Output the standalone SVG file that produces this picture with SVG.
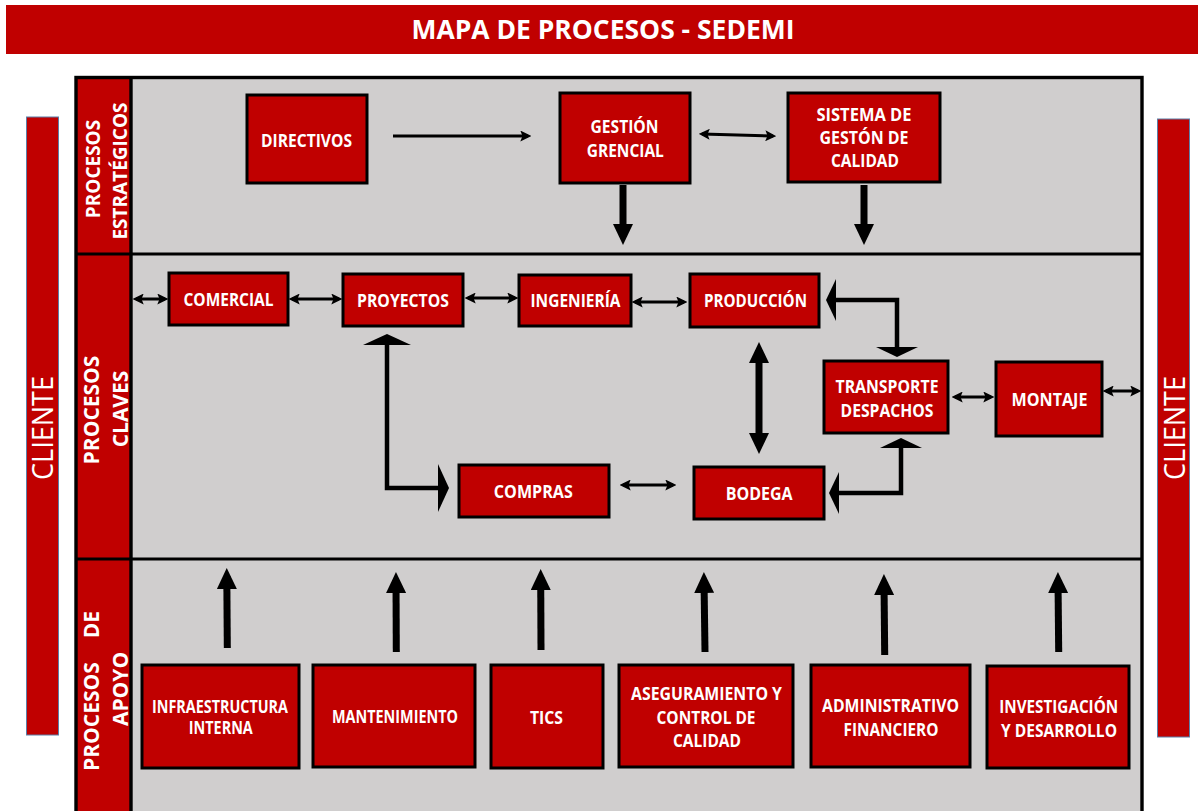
<svg xmlns="http://www.w3.org/2000/svg" width="1198" height="811" viewBox="0 0 1198 811">
  <style>
    .node { fill: #C00000; stroke: #000; stroke-width: 3; }
    .lbl { font-family: "Open Sans", "Liberation Sans", sans-serif; font-weight: 700; font-size: 17px; fill: #fff; text-anchor: middle; }
    .sec { font-family: "Open Sans", "Liberation Sans", sans-serif; font-weight: 700; fill: #fff; text-anchor: middle; }
    .client { font-family: "Open Sans", "Liberation Sans", sans-serif; font-weight: 400; font-size: 30px; fill: #fff; text-anchor: middle; }
    .thin { fill: none; stroke: #000; stroke-width: 3; marker-end: url(#head); }
    .both { marker-start: url(#head); }
    .thick { fill: none; stroke: #000; stroke-width: 7; marker-end: url(#bighead); }
    .thick2 { marker-start: url(#bighead); }
    .elbow { fill: none; stroke: #000; stroke-width: 4.5; stroke-linejoin: miter; marker-start: url(#flat); marker-end: url(#flat); }
  </style>
  <defs>
    <!-- small head for the thin connectors -->
    <marker id="head" markerUnits="userSpaceOnUse" markerWidth="11" markerHeight="11" viewBox="0 0 10 10" refX="7" refY="5" orient="auto-start-reverse">
      <path d="M0,0 L10,5 L0,10 L2,5 z" fill="#000"/>
    </marker>
    <!-- heavy head for the block arrows -->
    <marker id="bighead" markerUnits="userSpaceOnUse" markerWidth="21" markerHeight="20" viewBox="0 0 21 20" refX="13" refY="10" orient="auto-start-reverse">
      <path d="M0,0 L21,10 L0,20 z" fill="#000"/>
    </marker>
    <!-- wide, short head for the elbow links -->
    <marker id="flat" markerUnits="userSpaceOnUse" markerWidth="10" markerHeight="42" viewBox="0 0 10 42" refX="1" refY="21" orient="auto-start-reverse">
      <path d="M0,0 L10,21 L0,42 z" fill="#000"/>
    </marker>
    <marker id="flatbig" markerUnits="userSpaceOnUse" markerWidth="11" markerHeight="48" viewBox="0 0 11 48" refX="1" refY="24" orient="auto-start-reverse">
      <path d="M0,0 L11,24 L0,48 z" fill="#000"/>
    </marker>
  </defs>

  <rect width="1198" height="811" fill="#fff"/>

  <!-- title bar -->
  <g id="title">
    <rect x="6" y="5" width="1192" height="49" fill="#C00000"/>
    <text x="603" y="39" font-family="'Open Sans', 'Liberation Sans', sans-serif" font-weight="700" font-size="27" fill="#fff" text-anchor="middle" textLength="383" lengthAdjust="spacingAndGlyphs">MAPA DE PROCESOS - SEDEMI</text>
  </g>

  <!-- customer bars on both sides -->
  <g id="cliente-izq">
    <rect x="26.5" y="117" width="32" height="618" fill="#C00000" stroke="#5B7FA8" stroke-width="1"/>
    <text class="client" transform="translate(53 428) rotate(-90)" textLength="104" lengthAdjust="spacingAndGlyphs">CLIENTE</text>
  </g>
  <g id="cliente-der">
    <rect x="1157.5" y="119" width="32" height="618" fill="#C00000" stroke="#5B7FA8" stroke-width="1"/>
    <text class="client" transform="translate(1185 428) rotate(-90)" textLength="104" lengthAdjust="spacingAndGlyphs">CLIENTE</text>
  </g>

  <!-- process map frame with the three bands -->
  <g id="frame">
    <rect x="76" y="77.5" width="1066" height="760" fill="#D0CECE"/>
    <rect x="76" y="77.5" width="55" height="760" fill="#C00000"/>
    <rect x="76" y="77.5" width="1066" height="760" fill="none" stroke="#000" stroke-width="3.4"/>
    <line x1="131" y1="77.5" x2="131" y2="811" stroke="#000" stroke-width="3.4"/>
    <line x1="76" y1="254" x2="1142" y2="254" stroke="#000" stroke-width="3.2"/>
    <line x1="76" y1="559" x2="1142" y2="559" stroke="#000" stroke-width="3.2"/>
  </g>

  <g id="band-estrategicos">
    <text class="sec" font-size="19" transform="translate(100 169) rotate(-90)">PROCESOS</text>
    <text class="sec" font-size="19" transform="translate(127 171) rotate(-90)">ESTRATÉGICOS</text>
  </g>
  <g id="band-claves">
    <text class="sec" font-size="21" transform="translate(99 410) rotate(-90)">PROCESOS</text>
    <text class="sec" font-size="21" transform="translate(128 409) rotate(-90)">CLAVES</text>
  </g>
  <g id="band-apoyo">
    <text class="sec" font-size="21" transform="translate(99 771) rotate(-90)" style="text-anchor:start">PROCESOS</text>
    <text class="sec" font-size="21" transform="translate(99 611) rotate(-90)" style="text-anchor:end">DE</text>
    <text class="sec" font-size="21" transform="translate(128 689) rotate(-90)">APOYO</text>
  </g>

  <!-- strategic processes -->
  <g id="n-directivos">
    <rect class="node" x="247" y="95" width="120" height="88"/>
    <text class="lbl" x="306.5" y="147" textLength="91" lengthAdjust="spacingAndGlyphs">DIRECTIVOS</text>
  </g>
  <g id="n-gestion-gerencial">
    <rect class="node" x="560" y="93" width="130" height="90"/>
    <text class="lbl" x="624.5" y="133" textLength="68" lengthAdjust="spacingAndGlyphs">GESTIÓN</text>
    <text class="lbl" x="625.3" y="157" textLength="77" lengthAdjust="spacingAndGlyphs">GRENCIAL</text>
  </g>
  <g id="n-sistema-calidad">
    <rect class="node" x="788" y="93" width="152" height="89"/>
    <text class="lbl" x="864" y="121" textLength="95" lengthAdjust="spacingAndGlyphs">SISTEMA DE</text>
    <text class="lbl" x="864" y="144" textLength="89" lengthAdjust="spacingAndGlyphs">GESTÓN DE</text>
    <text class="lbl" x="865" y="167" textLength="68" lengthAdjust="spacingAndGlyphs">CALIDAD</text>
  </g>

  <!-- key processes -->
  <g id="n-comercial">
    <rect class="node" x="169" y="273" width="119" height="52"/>
    <text class="lbl" x="228.5" y="306" textLength="90" lengthAdjust="spacingAndGlyphs">COMERCIAL</text>
  </g>
  <g id="n-proyectos">
    <rect class="node" x="343" y="274" width="120" height="52"/>
    <text class="lbl" x="403" y="307" textLength="92" lengthAdjust="spacingAndGlyphs">PROYECTOS</text>
  </g>
  <g id="n-ingenieria">
    <rect class="node" x="519" y="275" width="112" height="51"/>
    <text class="lbl" x="575.5" y="307" textLength="90" lengthAdjust="spacingAndGlyphs">INGENIERÍA</text>
  </g>
  <g id="n-produccion">
    <rect class="node" x="690" y="274" width="129" height="53"/>
    <text class="lbl" x="755.5" y="307" textLength="103" lengthAdjust="spacingAndGlyphs">PRODUCCIÓN</text>
  </g>
  <g id="n-transporte">
    <rect class="node" x="824" y="361" width="124" height="72"/>
    <text class="lbl" x="887" y="393" textLength="103" lengthAdjust="spacingAndGlyphs">TRANSPORTE</text>
    <text class="lbl" x="887" y="417" textLength="93" lengthAdjust="spacingAndGlyphs">DESPACHOS</text>
  </g>
  <g id="n-montaje">
    <rect class="node" x="996" y="362" width="106" height="74"/>
    <text class="lbl" x="1049.5" y="406" textLength="76" lengthAdjust="spacingAndGlyphs">MONTAJE</text>
  </g>
  <g id="n-compras">
    <rect class="node" x="459" y="465" width="150" height="52"/>
    <text class="lbl" x="533.3" y="498" textLength="79" lengthAdjust="spacingAndGlyphs">COMPRAS</text>
  </g>
  <g id="n-bodega">
    <rect class="node" x="694" y="467" width="130" height="52"/>
    <text class="lbl" x="759.2" y="500" textLength="67" lengthAdjust="spacingAndGlyphs">BODEGA</text>
  </g>

  <!-- support processes -->
  <g id="n-infraestructura">
    <rect class="node" x="142" y="665" width="157" height="103"/>
    <text class="lbl" x="220" y="713" textLength="136" lengthAdjust="spacingAndGlyphs">INFRAESTRUCTURA</text>
    <text class="lbl" x="220.8" y="734" textLength="64" lengthAdjust="spacingAndGlyphs">INTERNA</text>
  </g>
  <g id="n-mantenimiento">
    <rect class="node" x="313" y="665" width="162" height="102"/>
    <text class="lbl" x="395" y="723" textLength="126" lengthAdjust="spacingAndGlyphs">MANTENIMIENTO</text>
  </g>
  <g id="n-tics">
    <rect class="node" x="491" y="665" width="112" height="103"/>
    <text class="lbl" x="546.5" y="724" textLength="33" lengthAdjust="spacingAndGlyphs">TICS</text>
  </g>
  <g id="n-aseguramiento">
    <rect class="node" x="619" y="665" width="174" height="102"/>
    <text class="lbl" x="706.5" y="700" textLength="151" lengthAdjust="spacingAndGlyphs">ASEGURAMIENTO Y</text>
    <text class="lbl" x="706" y="724" textLength="99" lengthAdjust="spacingAndGlyphs">CONTROL DE</text>
    <text class="lbl" x="707" y="747" textLength="68" lengthAdjust="spacingAndGlyphs">CALIDAD</text>
  </g>
  <g id="n-administrativo">
    <rect class="node" x="811" y="665" width="159" height="102"/>
    <text class="lbl" x="890.5" y="712" textLength="137" lengthAdjust="spacingAndGlyphs">ADMINISTRATIVO</text>
    <text class="lbl" x="891" y="736" textLength="95" lengthAdjust="spacingAndGlyphs">FINANCIERO</text>
  </g>
  <g id="n-investigacion">
    <rect class="node" x="987" y="666" width="142" height="102"/>
    <text class="lbl" x="1058.7" y="713" textLength="119" lengthAdjust="spacingAndGlyphs">INVESTIGACIÓN</text>
    <text class="lbl" x="1059" y="737" textLength="116" lengthAdjust="spacingAndGlyphs">Y DESARROLLO</text>
  </g>

  <!-- connectors -->
  <g id="connectors">
    <!-- thin links -->
    <path class="thin" d="M393,136 L528,136"/>
    <path class="thin both" d="M702,134 L773,136"/>
    <path class="thin both" d="M136,299 L165,299"/>
    <path class="thin both" d="M292,299 L339,299"/>
    <path class="thin both" d="M468,298 L515,298"/>
    <path class="thin both" d="M635,302 L684,302"/>
    <path class="thin both" d="M955,397 L991,397"/>
    <path class="thin both" d="M1106,391 L1138,391"/>
    <path class="thin both" d="M623,485 L673,485"/>

    <!-- block arrows from the strategic band -->
    <path class="thick" d="M623,185 L623,237"/>
    <path class="thick" d="M864,185 L864,237"/>
    <!-- production / warehouse -->
    <path class="thick thick2" d="M759,350 L759,446"/>

    <!-- elbow links -->
    <path class="elbow" d="M835,300 H897 V348"/>
    <path class="elbow" d="M838,493 H901 V447"/>
    <path class="elbow" style="marker-start:url(#flatbig);marker-end:url(#flatbig)" d="M387,344 V488 H439"/>

    <!-- support band feeding the key processes -->
    <path class="thick" d="M227.3,648 L226.8,576"/>
    <path class="thick" d="M396.3,652 L396,580"/>
    <path class="thick" d="M541,650 L540.7,577"/>
    <path class="thick" d="M705,652 L704,580"/>
    <path class="thick" d="M884.7,655 L884,582"/>
    <path class="thick" d="M1058.7,652 L1058,580"/>
  </g>
</svg>
